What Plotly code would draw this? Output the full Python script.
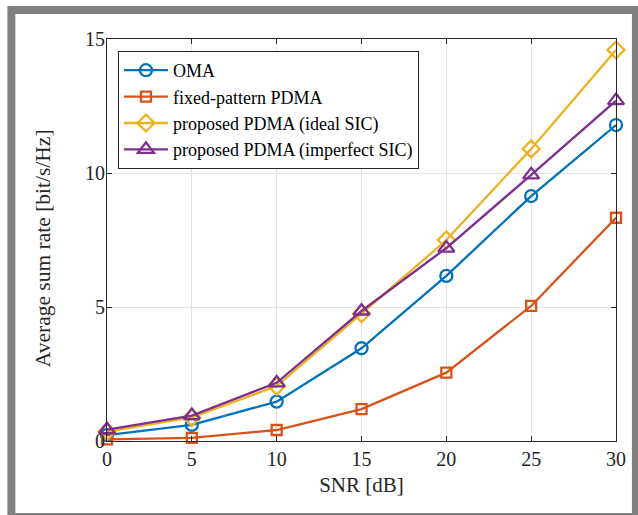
import plotly.graph_objects as go

snr = [0, 5, 10, 15, 20, 25, 30]
oma = [0.22, 0.60, 1.47, 3.46, 6.16, 9.14, 11.79]
fixed_pdma = [0.06, 0.12, 0.41, 1.19, 2.55, 5.04, 8.33]
ideal_sic = [0.35, 0.88, 2.05, 4.75, 7.50, 10.90, 14.59]
imperfect_sic = [0.42, 0.95, 2.17, 4.85, 7.20, 9.93, 12.70]

names = ["OMA", "fixed-pattern PDMA", "proposed PDMA (ideal SIC)",
         "proposed PDMA (imperfect SIC)"]
colors = ["#0072BD", "#D95319", "#EDB120", "#7E2F8E"]
symbols = ["circle-open", "square-open", "diamond-open", "triangle-up-open"]
sizes = [12, 10, 13, 14]
series = [oma, fixed_pdma, ideal_sic, imperfect_sic]

FONT = "Liberation Serif, Times New Roman, serif"

fig = go.Figure()
for name, ys, c, s, sz in zip(names, series, colors, symbols, sizes):
    fig.add_trace(go.Scatter(
        x=snr, y=ys, name=name, mode="lines+markers",
        line=dict(color=c, width=2.3),
        marker=dict(symbol=s, size=sz, color=c, line=dict(color=c, width=2.3)),
        cliponaxis=False,
    ))

# plot area in pixels: x 107..618, y 39..441
L, R, T, B = 107, 618, 39, 441
W, H = 638, 515
def px(x):
    return (x - L) / (R - L)
def py(y):
    return (B - y) / (B - T)

shapes = [
    dict(type="rect", xref="paper", yref="paper", layer="below",
         x0=px(7), x1=px(645), y0=py(520), y1=py(6),
         fillcolor="#808080", line=dict(width=0)),
    dict(type="rect", xref="paper", yref="paper", layer="below",
         x0=px(15), x1=px(634), y0=py(513), y1=py(14),
         fillcolor="white", line=dict(width=0)),
]

axis_common = dict(
    showline=True, linecolor="#262626", linewidth=1, mirror="ticks",
    ticks="inside", ticklen=5, tickcolor="#262626", tickwidth=1,
    showgrid=True, gridcolor="#e3e3e3", gridwidth=1,
    zeroline=False,
    tickfont=dict(family=FONT, size=20, color="#262626"),
)

fig.update_layout(
    width=W, height=H,
    margin=dict(l=L, r=W - R, t=T, b=H - B),
    paper_bgcolor="white", plot_bgcolor="rgba(0,0,0,0)",
    shapes=shapes,
    showlegend=True,
    hovermode=False,
    legend=dict(
        x=px(118), y=py(51), xanchor="left", yanchor="top",
        bgcolor="white", bordercolor="#262626", borderwidth=1,
        font=dict(family=FONT, size=18, color="#000000"),
        tracegroupgap=0, itemwidth=44,
    ),
    xaxis=dict(
        range=[0, 30], tickvals=snr, **axis_common,
        title=dict(text="SNR [dB]", font=dict(family=FONT, size=21, color="#262626"),
                   standoff=8),
    ),
    yaxis=dict(
        range=[0, 15], tickvals=[0, 5, 10, 15], **axis_common,
        ticklabelstandoff=-3,
    ),
    annotations=[dict(
        text="Average sum rate [bit/s/Hz]", textangle=-90,
        xref="paper", yref="paper", x=px(43), y=py(248),
        xanchor="center", yanchor="middle", showarrow=False,
        font=dict(family=FONT, size=21.5, color="#262626"),
    )],
)

fig.write_html(
    "out.html",
    config={"displayModeBar": False, "staticPlot": True},
    post_script="document.body.style.margin='0px';document.body.style.overflow='hidden';",
)
